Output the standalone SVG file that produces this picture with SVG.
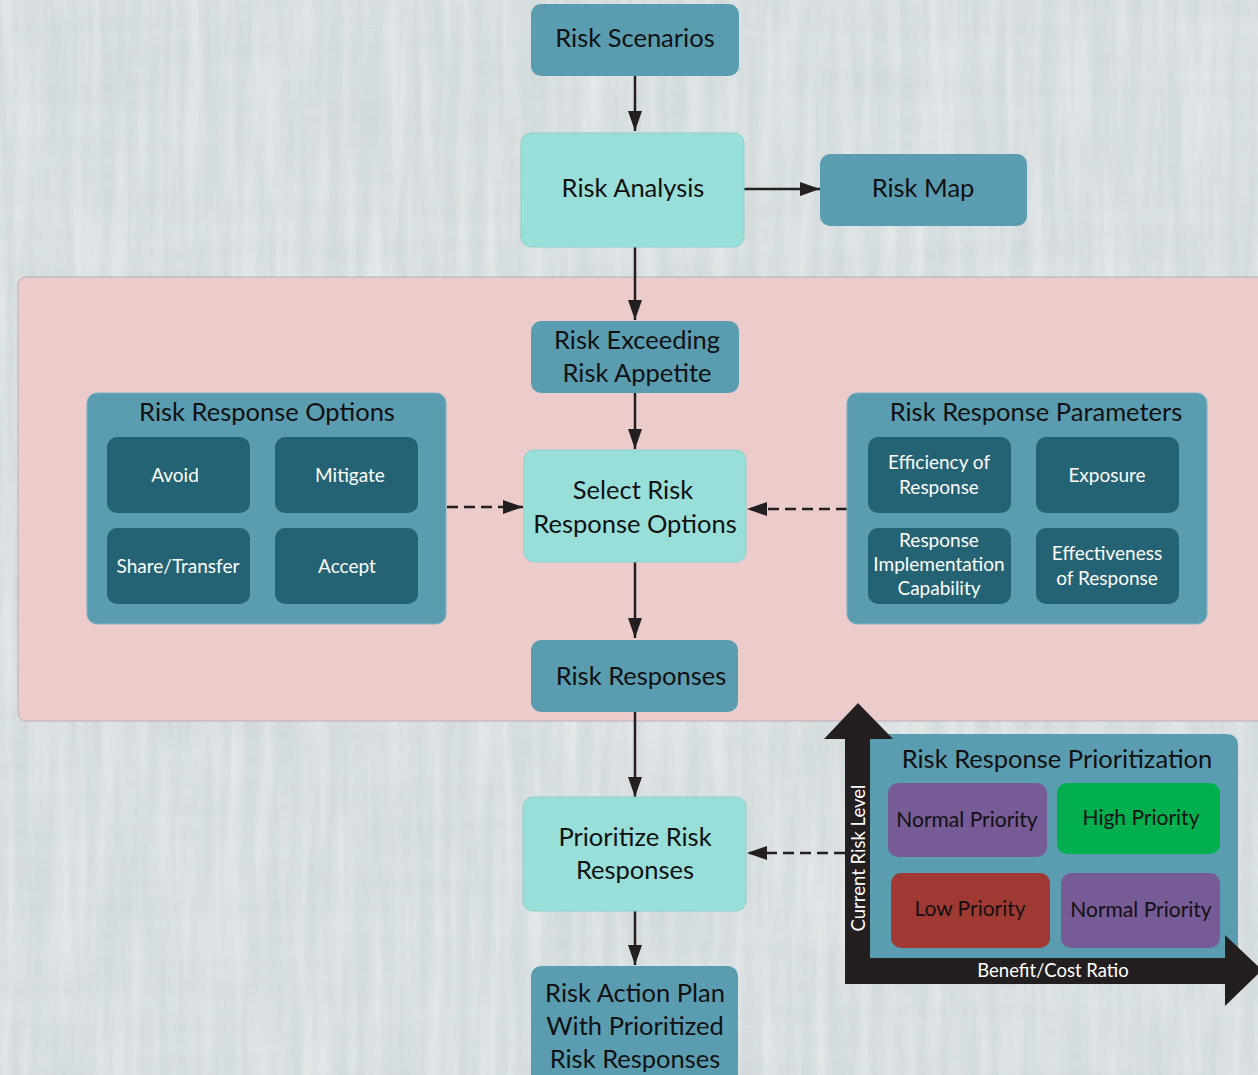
<svg xmlns="http://www.w3.org/2000/svg" width="1258" height="1075" viewBox="0 0 1258 1075">
  <defs>
    <marker id="arrow" viewBox="0 0 20 14" refX="20" refY="7" markerWidth="20" markerHeight="14" markerUnits="userSpaceOnUse" orient="auto">
      <path d="M0,0 L20,7 L0,14 Z" fill="#231f20"/>
    </marker>
    <filter id="grain" x="0" y="0" width="100%" height="100%">
      <feTurbulence type="fractalNoise" baseFrequency="0.07 0.005" numOctaves="3" seed="7" result="n"/>
      <feColorMatrix in="n" type="matrix" values="0 0 0 0 1  0 0 0 0 1  0 0 0 0 1  0 0 0 0.6 -0.18" result="w"/>
      <feComposite in="w" in2="SourceGraphic" operator="in"/>
    </filter>
    <filter id="grain2" x="0" y="0" width="100%" height="100%">
      <feTurbulence type="fractalNoise" baseFrequency="0.004 0.05" numOctaves="2" seed="3" result="n"/>
      <feColorMatrix in="n" type="matrix" values="0 0 0 0 0.55  0 0 0 0 0.6  0 0 0 0 0.62  0 0 0 0.45 -0.12" result="w"/>
      <feComposite in="w" in2="SourceGraphic" operator="in"/>
    </filter>
  </defs>
  <style>
    text { font-family: Lato, "Liberation Sans", sans-serif; }
    .dark { fill: #5a9db0; }
    .light { fill: #98dfda; stroke: #8ccfc9; stroke-width: 1; }
    .cell { fill: #246374; }
    .lbl { font-size: 25.5px; fill: #111; text-anchor: middle; }
    .ttl { font-size: 25.5px; fill: #111; text-anchor: middle; }
    .wht { font-size: 19px; fill: #fff; text-anchor: middle; }
    .pri { font-size: 21px; fill: #111; text-anchor: middle; }
    .axis { font-size: 18.5px; fill: #fff; text-anchor: middle; }
    .link { stroke: #231f20; stroke-width: 2.5; fill: none; marker-end: url(#arrow); }
    .dash { stroke-dasharray: 11 6; }
  </style>

  <!-- textured backdrop -->
  <rect x="0" y="0" width="1258" height="1075" fill="#d6dddf"/>
  <rect x="0" y="0" width="1258" height="1075" fill="#d6dddf" filter="url(#grain2)"/>
  <rect x="0" y="0" width="1258" height="1075" fill="#d6dddf" filter="url(#grain)"/>

  <!-- pink response-selection band -->
  <rect x="18" y="277" width="1260" height="444" rx="8" fill="#ebcccb" stroke="#b9b0b0" stroke-width="1"/>

  <!-- connectors -->
  <g id="connectors">
    <line class="link" x1="635" y1="76" x2="635" y2="131"/>
    <line class="link" x1="744" y1="189" x2="820" y2="189"/>
    <line class="link" x1="635" y1="247" x2="635" y2="320"/>
    <line class="link" x1="635" y1="393" x2="635" y2="449"/>
    <line class="link" x1="635" y1="562" x2="635" y2="638"/>
    <line class="link" x1="635" y1="712" x2="635" y2="797"/>
    <line class="link" x1="635" y1="911" x2="635" y2="965"/>
    <line class="link dash" x1="447" y1="507" x2="523" y2="507"/>
    <line class="link dash" x1="847" y1="509" x2="747" y2="509"/>
    <line class="link dash" x1="845" y1="853" x2="747" y2="853"/>
  </g>

  <g id="risk-scenarios">
    <rect class="dark" x="531" y="4" width="208" height="72" rx="10"/>
    <text class="lbl" x="635" y="47">Risk Scenarios</text>
  </g>

  <g id="risk-analysis">
    <rect class="light" x="521" y="133" width="223" height="114" rx="10"/>
    <text class="lbl" x="633" y="197">Risk Analysis</text>
  </g>

  <g id="risk-map">
    <rect class="dark" x="820" y="154" width="207" height="72" rx="10"/>
    <text class="lbl" x="923" y="197">Risk Map</text>
  </g>

  <g id="risk-exceeding">
    <rect class="dark" x="531" y="321" width="208" height="72" rx="10"/>
    <text class="lbl" x="637" y="349">Risk Exceeding</text>
    <text class="lbl" x="637" y="382">Risk Appetite</text>
  </g>

  <g id="select-options">
    <rect class="light" x="524" y="450" width="222" height="112" rx="10"/>
    <text class="lbl" x="633" y="499">Select Risk</text>
    <text class="lbl" x="635" y="533">Response Options</text>
  </g>

  <g id="risk-responses">
    <rect class="dark" x="531" y="640" width="207" height="72" rx="10"/>
    <text class="lbl" x="641" y="685">Risk Responses</text>
  </g>

  <g id="prioritize">
    <rect class="light" x="523" y="797" width="223" height="114" rx="10"/>
    <text class="lbl" x="635" y="846">Prioritize Risk</text>
    <text class="lbl" x="635" y="879">Responses</text>
  </g>

  <g id="action-plan">
    <rect class="dark" x="531" y="966" width="207" height="130" rx="10"/>
    <text class="lbl" x="635" y="1002">Risk Action Plan</text>
    <text class="lbl" x="635" y="1035">With Prioritized</text>
    <text class="lbl" x="635" y="1068">Risk Responses</text>
  </g>

  <g id="response-options">
    <rect class="dark" x="87" y="393" width="359" height="231" rx="10" stroke="#7fb3c2" stroke-width="1"/>
    <text class="ttl" x="267" y="421">Risk Response Options</text>
    <rect class="cell" x="107" y="437" width="143" height="76" rx="10"/>
    <text class="wht" x="175" y="482">Avoid</text>
    <rect class="cell" x="275" y="437" width="143" height="76" rx="10"/>
    <text class="wht" x="350" y="482">Mitigate</text>
    <rect class="cell" x="107" y="528" width="143" height="76" rx="10"/>
    <text class="wht" x="178" y="573">Share/Transfer</text>
    <rect class="cell" x="275" y="528" width="143" height="76" rx="10"/>
    <text class="wht" x="347" y="573">Accept</text>
  </g>

  <g id="response-parameters">
    <rect class="dark" x="847" y="393" width="360" height="231" rx="10" stroke="#7fb3c2" stroke-width="1"/>
    <text class="ttl" x="1036" y="421">Risk Response Parameters</text>
    <rect class="cell" x="868" y="437" width="143" height="76" rx="10"/>
    <text class="wht" x="939" y="469">Efficiency of</text>
    <text class="wht" x="939" y="494">Response</text>
    <rect class="cell" x="1036" y="437" width="143" height="76" rx="10"/>
    <text class="wht" x="1107" y="482">Exposure</text>
    <rect class="cell" x="868" y="528" width="143" height="76" rx="10"/>
    <text class="wht" x="939" y="547">Response</text>
    <text class="wht" x="939" y="571">Implementation</text>
    <text class="wht" x="939" y="595">Capability</text>
    <rect class="cell" x="1036" y="528" width="143" height="76" rx="10"/>
    <text class="wht" x="1107" y="560">Effectiveness</text>
    <text class="wht" x="1107" y="585">of Response</text>
  </g>

  <g id="prioritization">
    <path class="dark" d="M870,734 H1226 Q1238,734 1238,746 V958 H870 Z"/>
    <!-- axes -->
    <path d="M845,984 V739 H824 L858,703 L893,739 H870 V958 H1225 V935 L1262,970 L1225,1006 V984 Z" fill="#231f20"/>
    <text class="ttl" x="1057" y="768">Risk Response Prioritization</text>
    <rect x="888" y="783" width="159" height="74" rx="10" fill="#775b96"/>
    <text class="pri" x="967" y="827">Normal Priority</text>
    <rect x="1057" y="783" width="163" height="71" rx="10" fill="#00b04f"/>
    <text class="pri" x="1141" y="825">High Priority</text>
    <rect x="891" y="873" width="159" height="75" rx="10" fill="#a03933"/>
    <text class="pri" x="970" y="916">Low Priority</text>
    <rect x="1061" y="873" width="159" height="75" rx="10" fill="#775b96"/>
    <text class="pri" x="1141" y="917">Normal Priority</text>
    <text class="axis" x="865" y="858" transform="rotate(-90 865 858)">Current Risk Level</text>
    <text class="axis" x="1053" y="977">Benefit/Cost Ratio</text>
  </g>
</svg>
